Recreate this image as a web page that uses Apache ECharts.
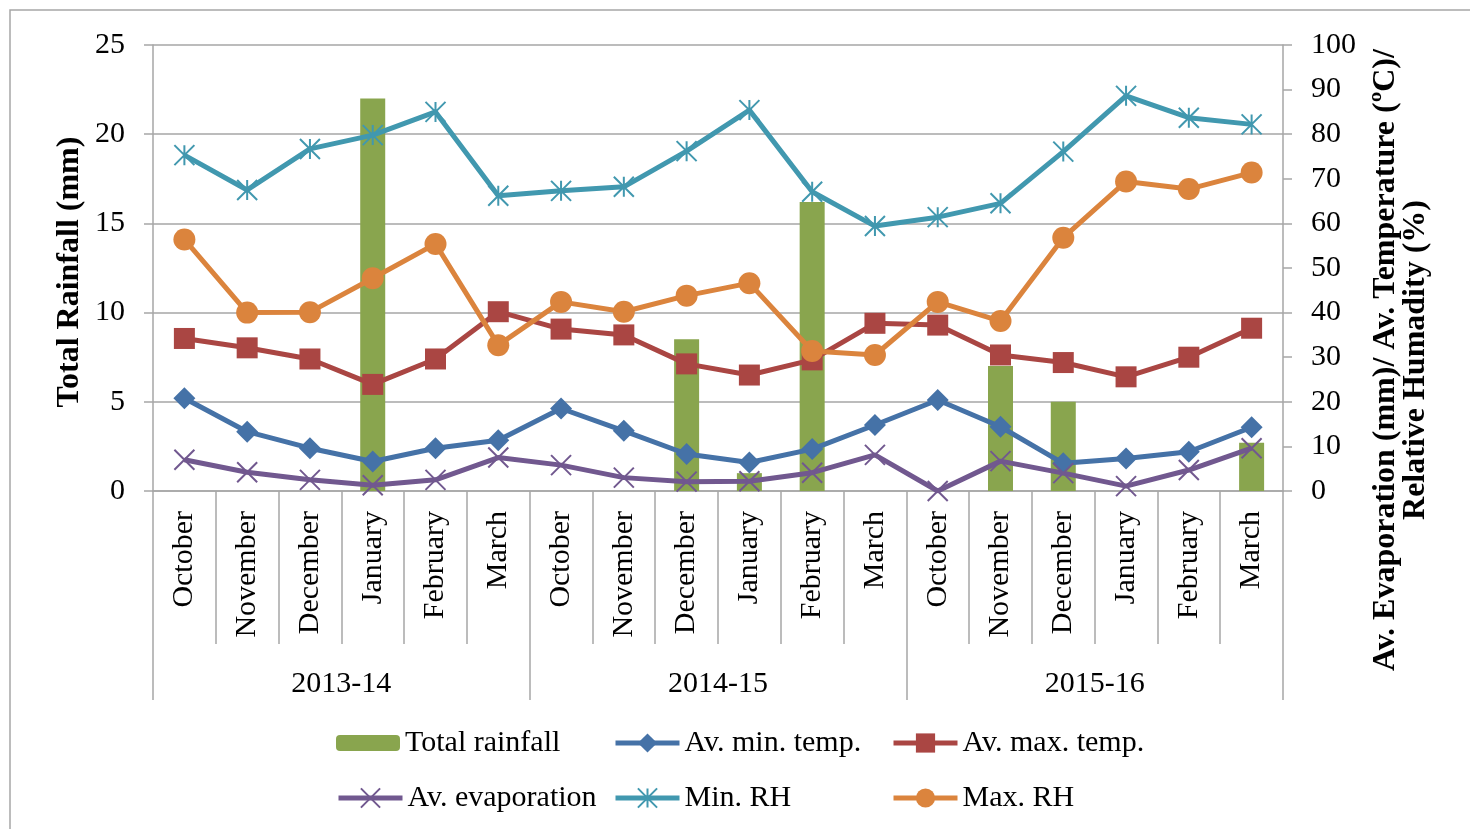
<!DOCTYPE html>
<html>
<head>
<meta charset="utf-8">
<script src="https://cdn.jsdelivr.net/npm/echarts@6/dist/echarts.min.js"></script>
<style>
  html, body { margin: 0; padding: 0; background: #fff; }
  #main { width: 1470px; height: 829px; }
</style>
</head>
<body>
<div id="main"></div>
<script>
// months for each season, and the seasons
const months = ["October", "November", "December", "January", "February", "March",
  "October", "November", "December", "January", "February", "March",
  "October", "November", "December", "January", "February", "March"];
const seasons = ["2013-14", "2014-15", "2015-16"];

// left axis (mm)
const totalRainfall = [0, 0, 0, 22, 0, 0, 0, 0, 8.5, 1.0, 16.2, 0, 0, 7.0, 5.0, 0, 0, 2.7];
// right axis
const minTemp = [20.8, 13.3, 9.6, 6.6, 9.6, 11.4, 18.5, 13.5, 8.3, 6.4, 9.4, 14.8, 20.4, 14.4, 6.2, 7.3, 8.8, 14.3];
const maxTemp = [34.2, 32.1, 29.6, 23.9, 29.6, 40.2, 36.3, 35.0, 28.5, 26.0, 29.4, 37.6, 37.2, 30.5, 28.8, 25.6, 30.0, 36.5];
const evaporation = [7.0, 4.2, 2.5, 1.3, 2.5, 7.5, 5.8, 3.0, 2.1, 2.2, 4.1, 8.1, 0, 6.7, 4.0, 1.1, 4.7, 9.6];
const minRH = [75.3, 67.5, 76.7, 79.8, 85.0, 66.2, 67.3, 68.2, 76.2, 85.4, 67.1, 59.4, 61.4, 64.5, 76.1, 88.6, 83.7, 82.2];
const maxRH = [56.4, 40.0, 40.1, 47.7, 55.4, 32.7, 42.4, 40.2, 43.8, 46.6, 31.4, 30.5, 42.4, 38.1, 56.8, 69.4, 67.7, 71.4];

const font = '"Times New Roman", "Liberation Serif", serif';
const grey = '#a6a6a6';
const xMark = 'path://M0,0L20,20M20,0L0,20';
const starMark = 'path://M0,0L20,20M20,0L0,20M10,0L10,20';

const myChart = echarts.init(document.getElementById('main'));

function lineSeries(name, data, color, symbol, size, stroke) {
  return {
    name: name,
    type: 'line',
    yAxisIndex: 1,
    data: data,
    symbol: symbol,
    symbolSize: size,
    color: color,
    lineStyle: { color: color, width: 5 },
    itemStyle: { color: color, borderColor: color, borderWidth: stroke },
    emphasis: { disabled: true }
  };
}

function legendAt(name, left, top, h) {
  return {
    data: [name],
    left: left,
    top: top,
    itemWidth: 64,
    itemHeight: h,
    padding: 0,
    selectedMode: false,
    lineStyle: { width: 5 },
    textStyle: { fontFamily: font, fontSize: 30, color: '#000' }
  };
}

const option = {
  animation: false,
  textStyle: { fontFamily: font },
  grid: { left: 153, right: 187, top: 45, bottom: 338 },
  legend: [
    legendAt('Total rainfall', 336, 728, 16),
    legendAt('Av. min. temp.', 613, 728, 24),
    legendAt('Av. max. temp.', 891, 728, 24),
    legendAt('Av. evaporation', 336, 783, 24),
    legendAt('Min. RH', 613, 783, 24),
    legendAt('Max. RH', 891, 783, 24)
  ],
  xAxis: [
    {
      type: 'category',
      position: 'bottom',
      data: months,
      boundaryGap: true,
      axisLine: { show: true, lineStyle: { color: grey, width: 1.5 } },
      axisTick: { show: true, interval: 0, length: 153, lineStyle: { color: grey, width: 1.5 } },
      axisLabel: { interval: 0, rotate: 90, margin: 20, fontSize: 30, color: '#000', fontFamily: font }
    },
    {
      type: 'category',
      position: 'bottom',
      data: seasons,
      boundaryGap: true,
      axisLine: { show: false },
      axisTick: { show: true, interval: 0, length: 209, lineStyle: { color: grey, width: 1.5 } },
      axisLabel: { interval: 0, margin: 178, fontSize: 30, color: '#000', fontFamily: font }
    }
  ],
  yAxis: [
    {
      type: 'value',
      min: 0,
      max: 25,
      interval: 5,
      axisLine: { show: true, lineStyle: { color: grey, width: 1.5 } },
      axisTick: { show: true, length: 9, lineStyle: { color: grey, width: 1.5 } },
      axisLabel: { margin: 28, fontSize: 30, color: '#000', fontFamily: font },
      splitLine: { show: true, lineStyle: { color: grey, width: 1.5 } }
    },
    {
      type: 'value',
      position: 'right',
      min: 0,
      max: 100,
      interval: 10,
      axisLine: { show: true, lineStyle: { color: grey, width: 1.5 } },
      axisTick: { show: true, length: 9, lineStyle: { color: grey, width: 1.5 } },
      axisLabel: { margin: 28, fontSize: 30, color: '#000', fontFamily: font },
      splitLine: { show: false }
    }
  ],
  series: [
    {
      name: 'Total rainfall',
      type: 'bar',
      yAxisIndex: 0,
      data: totalRainfall,
      barWidth: 25,
      color: '#89a54e',
      itemStyle: { color: '#89a54e' },
      emphasis: { disabled: true }
    },
    lineSeries('Av. min. temp.', minTemp, '#4572a7', 'diamond', 22, 0),
    lineSeries('Av. max. temp.', maxTemp, '#aa4643', 'rect', 21, 0),
    lineSeries('Av. evaporation', evaporation, '#71588f', xMark, 20, 2),
    lineSeries('Min. RH', minRH, '#4198af', starMark, 20, 2),
    lineSeries('Max. RH', maxRH, '#db843d', 'circle', 22, 0)
  ],
  graphic: [
    {
      type: 'rect',
      shape: { x: 10, y: 10, width: 1500, height: 900 },
      style: { fill: 'none', stroke: grey, lineWidth: 1.5 },
      silent: true,
      z: -1
    },
    {
      type: 'text',
      x: 70,
      y: 272,
      rotation: Math.PI / 2,
      style: {
        text: 'Total Rainfall (mm)',
        font: 'bold 32px ' + font,
        fill: '#000',
        align: 'center',
        verticalAlign: 'middle'
      }
    },
    {
      type: 'text',
      x: 1401,
      y: 360,
      rotation: Math.PI / 2,
      style: {
        text: 'Av. Evaporation (mm)/ Av. Temperature (ºC)/\nRelative Humadity (%)',
        font: 'bold 32px ' + font,
        lineHeight: 30,
        fill: '#000',
        align: 'center',
        verticalAlign: 'middle'
      }
    }
  ]
};

myChart.setOption(option);
</script>
</body>
</html>
